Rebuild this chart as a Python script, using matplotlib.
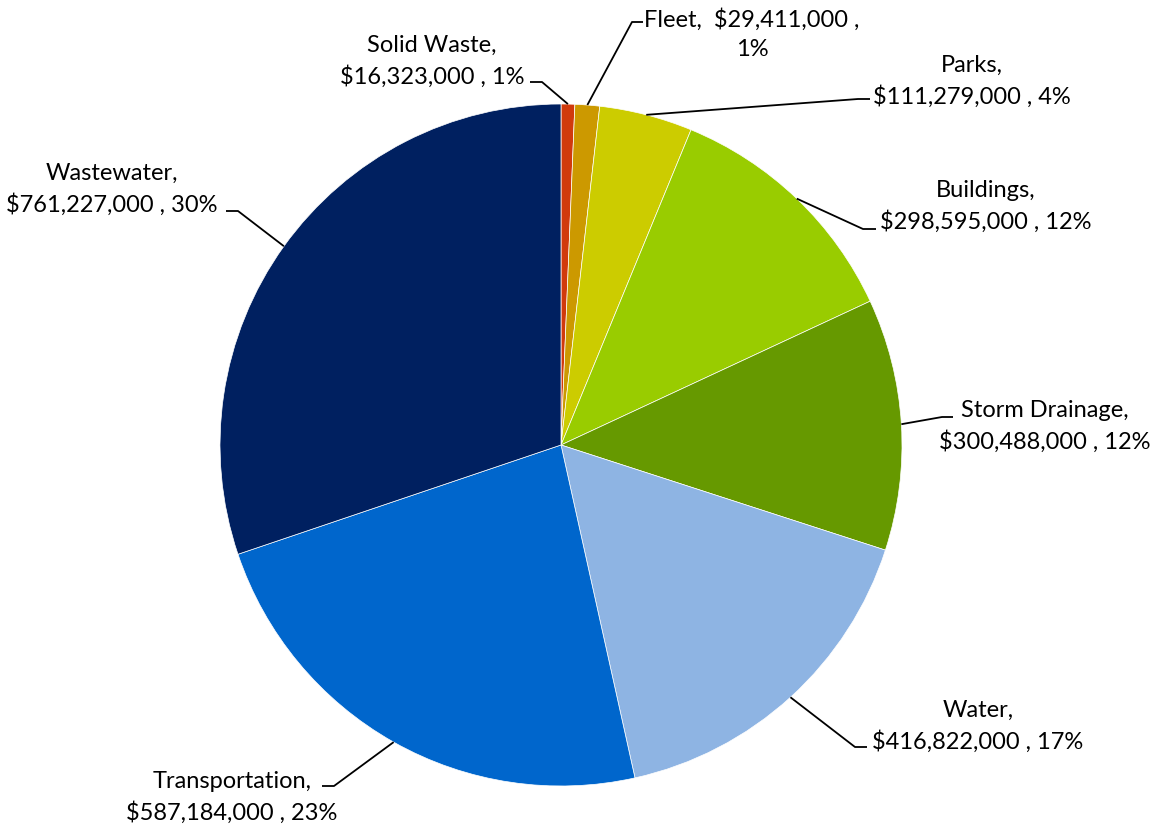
import numpy as np
import matplotlib
matplotlib.use("Agg")
import matplotlib.pyplot as plt

categories = ["Solid Waste", "Fleet", "Parks", "Buildings", "Storm Drainage",
              "Water", "Transportation", "Wastewater"]
values = [16323000, 29411000, 111279000, 298595000, 300488000,
          416822000, 587184000, 761227000]
percents = ["1%", "1%", "4%", "12%", "12%", "17%", "23%", "30%"]
colors = ["#D13A0C", "#CC9900", "#CCCC00", "#99CC00", "#669900",
          "#8EB4E3", "#0066CC", "#002060"]

W, H = 1165, 829
fig = plt.figure(figsize=(W / 100, H / 100), dpi=100)
ax = fig.add_axes([0, 0, 1, 1])

cx, cy, R = 561, H - 446, 341
wedges, _ = ax.pie(values, colors=colors, startangle=90, counterclock=False,
                   radius=R, center=(cx, cy), frame=True,
                   wedgeprops=dict(linewidth=0.5, edgecolor="white"))
ax.set_xlim(0, W)
ax.set_ylim(0, H)
ax.set_aspect("equal")
ax.axis("off")

font = dict(family="Lato", fontsize=17, color="#000000")

# label layout: (text x, text y of block center, ha, elbow-end x, elbow y, elbow-start x)
layout = {
    "Solid Waste":    (432, 61, "center", 530, 83, 542),
    "Fleet":          (752, 34, "center", 643, 23, 632),
    "Parks":          (972, 81, "center", 870, 100, 858),
    "Buildings":      (986, 206, "center", 876, 230, 863),
    "Storm Drainage": (1045, 426, "center", 953, 418, 942),
    "Water":          (978, 726, "center", 867, 748, 855),
    "Transportation": (232, 797, "center", 322, 787, 334),
    "Wastewater":     (112, 189, "center", 226, 212, 238),
}

for w, cat, v, p in zip(wedges, categories, values, percents):
    ang = np.deg2rad((w.theta1 + w.theta2) / 2)
    px, py = cx + R * np.cos(ang), cy + R * np.sin(ang)
    tx, ty, ha, ex, ey, sx = layout[cat]
    if cat == "Fleet":
        txt = f"{cat},  ${v:,} ,\n{p}"
    else:
        txt = f"{cat},\n${v:,} , {p}"
    ax.text(tx, H - ty, txt, ha=ha, va="center", linespacing=1.5, **font)
    ax.plot([px, sx, ex], [py, H - ey, H - ey], color="black", lw=1.3,
            solid_capstyle="butt", zorder=5)

fig.savefig("out.png", dpi=100, facecolor="white")
